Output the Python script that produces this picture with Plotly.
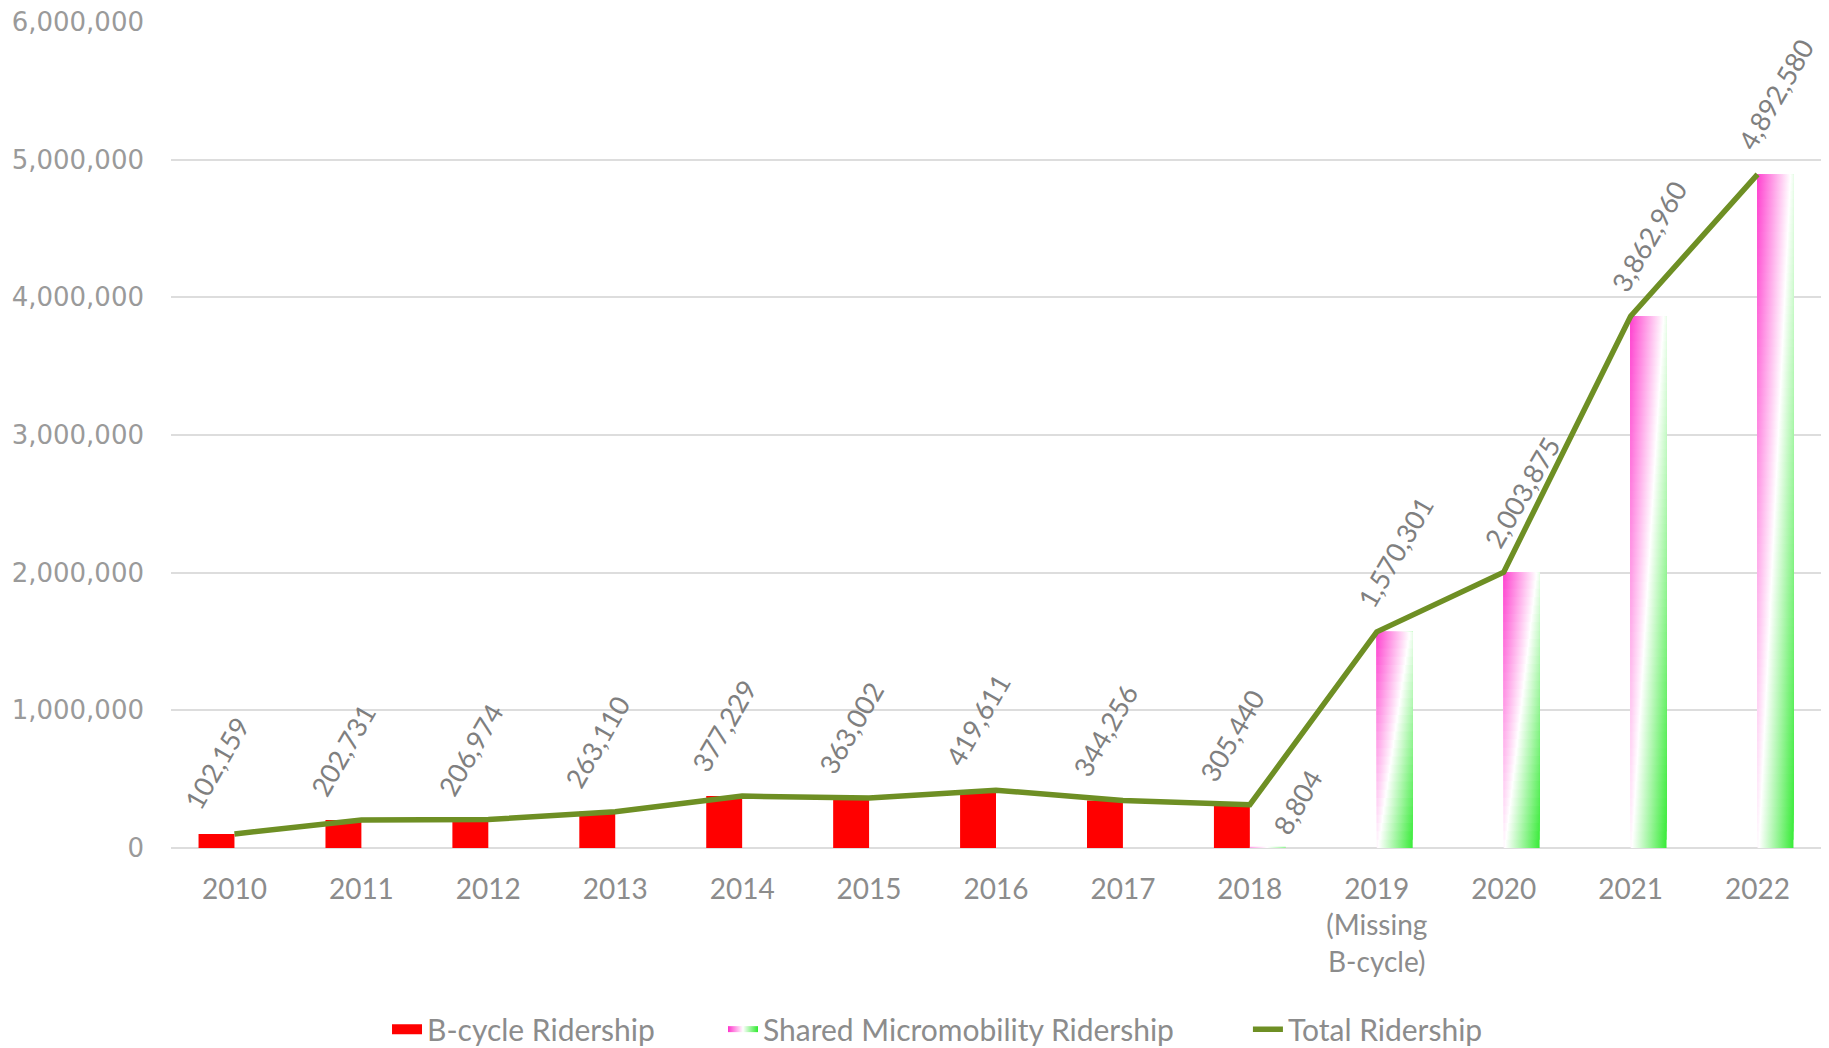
import plotly.graph_objects as go

# ---------------- data ----------------
year_keys = ["2010", "2011", "2012", "2013", "2014", "2015", "2016",
             "2017", "2018", "2019", "2020", "2021", "2022"]
tick_labels = ["2010", "2011", "2012", "2013", "2014", "2015", "2016",
               "2017", "2018", "2019<br>(Missing<br>B-cycle)", "2020", "2021", "2022"]

bcycle_years = ["2010", "2011", "2012", "2013", "2014", "2015", "2016", "2017", "2018"]
bcycle = [102159, 202731, 206974, 263110, 377229, 363002, 419611, 344256, 305440]

micro_years = ["2018", "2019", "2020", "2021", "2022"]
micro = [8804, 1570301, 2003875, 3862960, 4892580]

total = [102159, 202731, 206974, 263110, 377229, 363002, 419611, 344256,
         314244, 1570301, 2003875, 3862960, 4892580]

# ---------------- style ----------------
BAR_W = 0.283
RED = "#FF0000"
MAGENTA = "#FF33CC"
GREEN = "#2EEA2E"
LINE = "#6E8F24"
GRID = "#DDDDDD"
LABEL_GREY = "#7F7F7F"
TICK_GREY = "#8C8C8C"
Y_GREY = "#9A9A9A"
FONT = "Lato"
GRAD = [[0.0, MAGENTA], [0.5, "#FFFFFF"], [1.0, GREEN]]
LEG_FONT = dict(family=FONT, size=30, color=TICK_GREY)

pos = {y: i for i, y in enumerate(year_keys)}

fig = go.Figure()

# B-cycle bars (left of category centre)
fig.add_trace(go.Bar(
    x=[pos[y] for y in bcycle_years], y=bcycle,
    width=BAR_W, offset=-BAR_W,
    marker=dict(color=RED, line=dict(width=0)),
    name="B-cycle Ridership", hoverinfo="skip", showlegend=False,
))
# legend entry for B-cycle (thick rectangle symbol)
fig.add_trace(go.Scatter(
    x=[None], y=[None], mode="lines", line=dict(color=RED, width=16),
    name="B-cycle Ridership", legend="legend", showlegend=True, hoverinfo="skip",
))

# Shared micromobility bars (right of category centre): diagonal gradient built
# from stacked slices, each slice running up to the bar top (drawn bottom-up).
first = True
for yr, v in zip(micro_years, micro):
    p = pos[yr]
    xl, xr = p, p + BAR_W
    n = max(1, round(v / 60000))
    for k in range(n):
        y0 = v * k / n
        t = (k + 0.5) / n
        xw = xl + BAR_W * (0.04 + 0.88 * t)
        fig.add_trace(go.Scatter(
            x=[xl, xr, xr, xl, xl], y=[y0, y0, v, v, y0],
            mode="none", fill="toself",
            fillgradient=dict(type="horizontal", colorscale=GRAD,
                              start=xw - BAR_W, stop=xw + BAR_W),
            name="Shared Micromobility Ridership", legend="legend2",
            showlegend=first, hoverinfo="skip",
        ))
        first = False

# Total line
fig.add_trace(go.Scatter(
    x=list(range(len(year_keys))), y=total, mode="lines",
    line=dict(color=LINE, width=5.5),
    name="Total Ridership", legend="legend3", hoverinfo="skip",
))

# Data labels
ann = []
for yr, v in zip(bcycle_years, bcycle):
    ann.append(dict(x=pos[yr] - BAR_W / 2, y=v, text=f"{v:,}", showarrow=False,
                    textangle=-60, xanchor="center", yanchor="bottom", yshift=16,
                    font=dict(family=FONT, size=27, color=LABEL_GREY)))
for yr, v in zip(micro_years, micro):
    extra = dict(xshift=30, yshift=4) if v < 100000 else dict(yshift=16)
    ann.append(dict(x=pos[yr] + BAR_W / 2, y=v, text=f"{v:,}", showarrow=False,
                    textangle=-60, xanchor="center", yanchor="bottom",
                    font=dict(family=FONT, size=27, color=LABEL_GREY), **extra))

def leg(x):
    return dict(orientation="h", xref="container", yref="container",
                x=x, xanchor="left", y=0.018, yanchor="middle",
                font=LEG_FONT, bgcolor="rgba(0,0,0,0)")

fig.update_layout(
    width=1829, height=1048,
    margin=dict(l=171, r=8, t=22, b=200),
    paper_bgcolor="white", plot_bgcolor="white",
    barmode="overlay",
    annotations=ann,
    showlegend=True,
    legend=leg(0.2116),
    legend2=leg(0.3953),
    legend3=leg(0.6823),
    xaxis=dict(
        range=[-0.5, len(year_keys) - 0.5],
        tickmode="array", tickvals=list(range(len(year_keys))), ticktext=tick_labels,
        showgrid=False, zeroline=False, showline=False, ticks="",
        tickfont=dict(family=FONT, size=28, color=TICK_GREY),
        ticklabelstandoff=22,
    ),
    yaxis=dict(
        range=[0, 6000000], dtick=1000000, tickformat=",d",
        showgrid=True, gridcolor=GRID, gridwidth=2,
        zeroline=True, zerolinecolor=GRID, zerolinewidth=2,
        showline=False, ticks="",
        tickfont=dict(family="DejaVu Sans", size=26, color=Y_GREY),
        ticklabelstandoff=26,
    ),
)

fig.write_html("out.html")
